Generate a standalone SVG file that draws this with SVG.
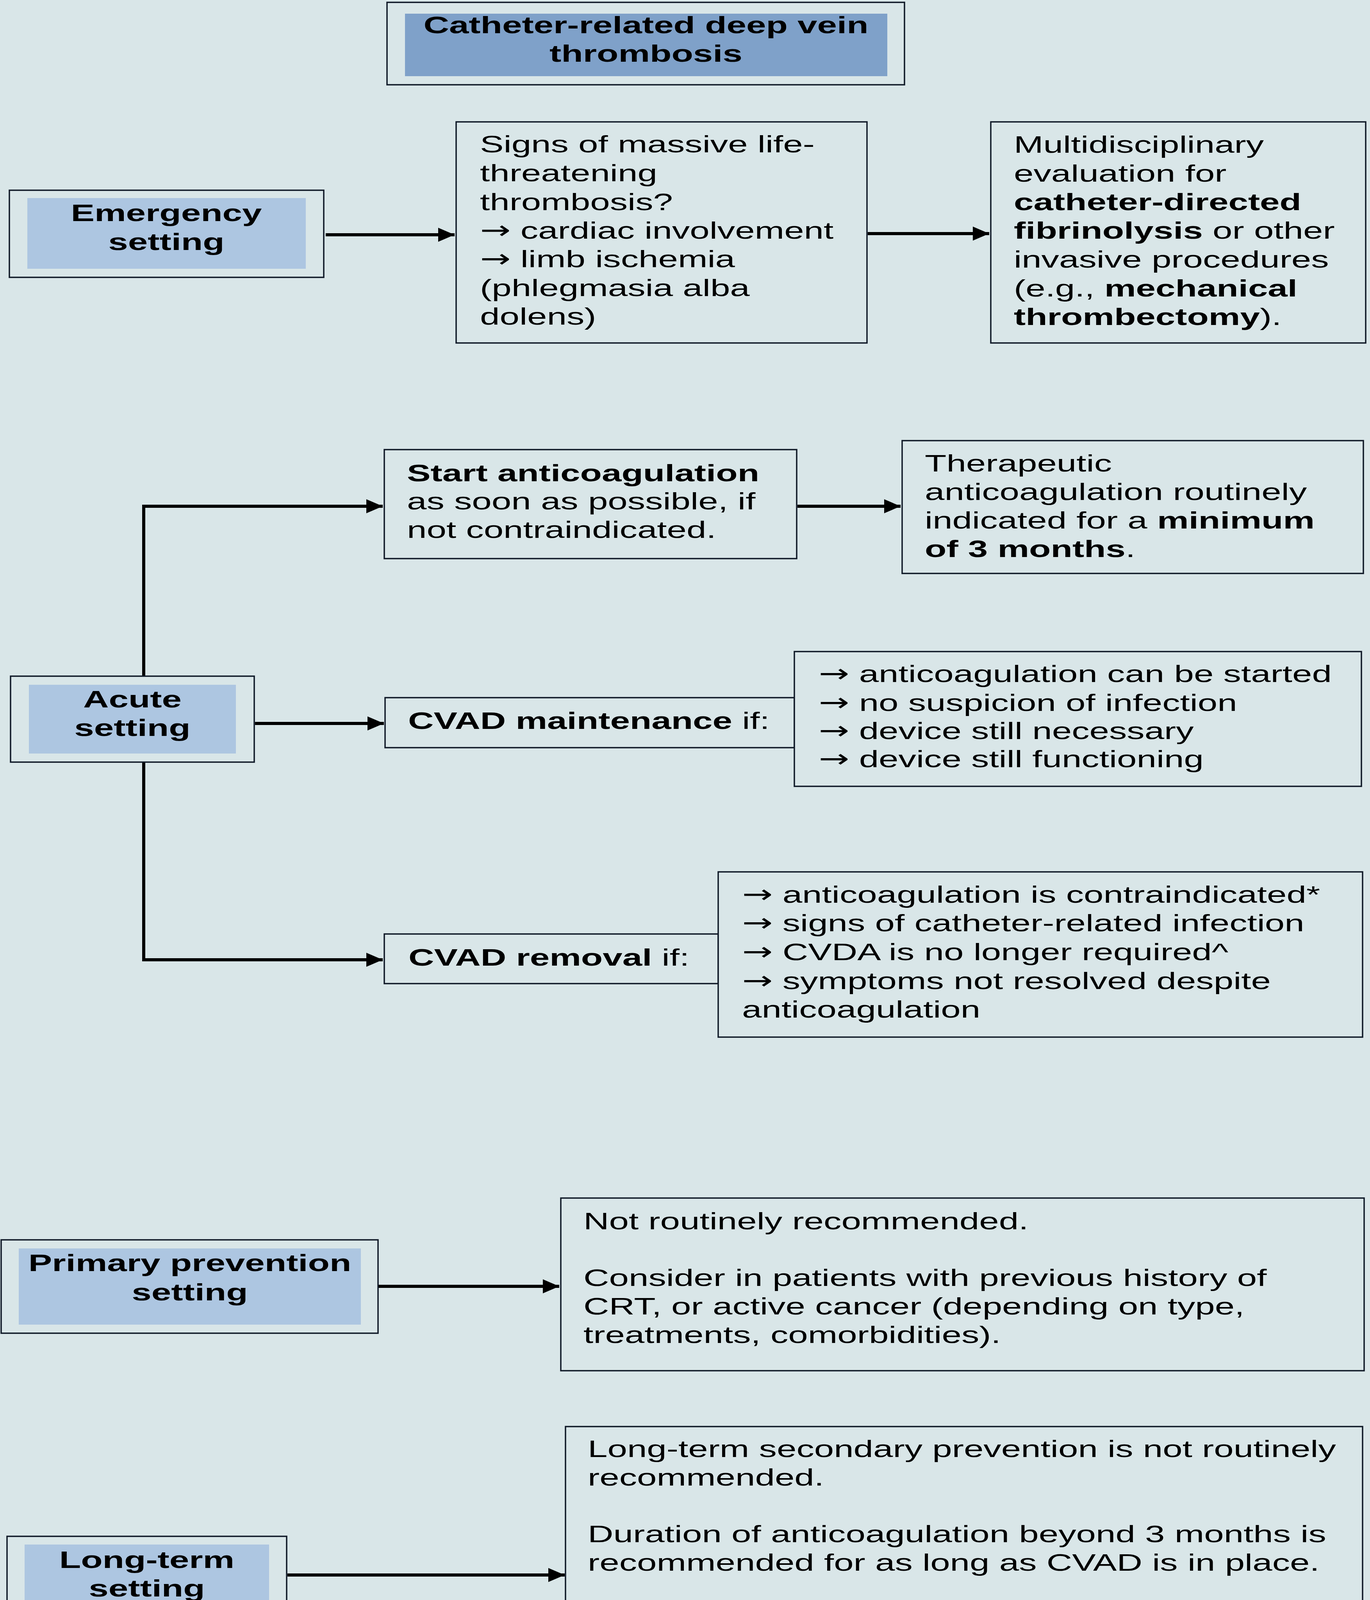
<svg xmlns="http://www.w3.org/2000/svg" width="3508" height="4529" viewBox="0 0 3508 4529">
<style>
.box{fill:#D9E6E8;stroke:#101a28;stroke-width:3.5}
.title{fill:#7FA1C9}
.inner{fill:#ADC6E1}
.t{font-family:"Liberation Sans",Arial,sans-serif;font-size:62px;fill:#000}
.b{font-weight:bold}
.c{text-anchor:middle}
.ar{font-family:"DejaVu Sans","Liberation Sans",sans-serif;font-size:64px}
.conn{fill:none;stroke:#000;stroke-width:8}
</style>
<defs>
<marker id="ah" markerUnits="userSpaceOnUse" markerWidth="44" markerHeight="36" refX="42" refY="18" orient="auto">
<path d="M0,0 L42,18 L0,36 z" fill="#000"/>
</marker>
</defs>
<rect x="0" y="0" width="3508" height="4529" fill="#D9E6E8"/>

<g id="connectors">
<path class="conn" d="M834,601 H1164" marker-end="url(#ah)"/>
<path class="conn" d="M2222,598 H2533" marker-end="url(#ah)"/>
<path class="conn" d="M368,1731 V1296 H980" marker-end="url(#ah)"/>
<path class="conn" d="M2042,1296 H2306" marker-end="url(#ah)"/>
<path class="conn" d="M653,1852 H983" marker-end="url(#ah)"/>
<path class="conn" d="M368,1951 V2457 H980" marker-end="url(#ah)"/>
<path class="conn" d="M968,3293 H1432" marker-end="url(#ah)"/>
<path class="conn" d="M736,4032 H1446" marker-end="url(#ah)"/>
</g>

<g id="n-title">
<rect class="box" x="991" y="6" width="1325" height="211"/>
<rect class="title" x="1037" y="35" width="1235" height="160"/>
<g transform="translate(1654,0) scale(1.463,1)">
<text class="t b c"><tspan x="0" y="85">Catheter-related deep vein</tspan><tspan x="0" y="158">thrombosis</tspan></text>
</g>
</g>

<g id="n-emergency">
<rect class="box" x="24" y="487" width="805" height="223"/>
<rect class="inner" x="70" y="507" width="713" height="181"/>
<g transform="translate(426,0) scale(1.463,1)">
<text class="t b c"><tspan x="0" y="566">Emergency</tspan><tspan x="0" y="640">setting</tspan></text>
</g>
</g>

<g id="n-signs">
<rect class="box" x="1168" y="312" width="1052" height="566"/>
<g transform="translate(1229,0) scale(1.463,1)">
<text class="t"><tspan x="0" y="390">Signs of massive life-</tspan><tspan x="0" y="464">threatening</tspan><tspan x="0" y="538">thrombosis?</tspan><tspan x="0" y="611"><tspan class="ar">→</tspan> cardiac involvement</tspan><tspan x="0" y="684"><tspan class="ar">→</tspan> limb ischemia</tspan><tspan x="0" y="758">(phlegmasia alba</tspan><tspan x="0" y="831">dolens)</tspan></text>
</g>
</g>

<g id="n-multidisciplinary">
<rect class="box" x="2537" y="312" width="960" height="566"/>
<g transform="translate(2596,0) scale(1.463,1)">
<text class="t"><tspan x="0" y="391">Multidisciplinary</tspan><tspan x="0" y="465">evaluation for</tspan><tspan x="0" y="538" class="b">catheter-directed</tspan><tspan x="0" y="611"><tspan class="b">fibrinolysis</tspan> or other</tspan><tspan x="0" y="685">invasive procedures</tspan><tspan x="0" y="759">(e.g., <tspan class="b">mechanical</tspan></tspan><tspan x="0" y="832"><tspan class="b">thrombectomy</tspan>).</tspan></text>
</g>
</g>

<g id="n-acute">
<rect class="box" x="27" y="1731" width="624" height="220"/>
<rect class="inner" x="74" y="1753" width="530" height="176"/>
<g transform="translate(339,0) scale(1.463,1)">
<text class="t b c"><tspan x="0" y="1811">Acute</tspan><tspan x="0" y="1884">setting</tspan></text>
</g>
</g>

<g id="n-start">
<rect class="box" x="984" y="1151" width="1056" height="279"/>
<g transform="translate(1042,0) scale(1.463,1)">
<text class="t"><tspan x="0" y="1232" class="b">Start anticoagulation</tspan><tspan x="0" y="1304">as soon as possible, if</tspan><tspan x="0" y="1377">not contraindicated.</tspan></text>
</g>
</g>

<g id="n-therapeutic">
<rect class="box" x="2310" y="1128" width="1181" height="340"/>
<g transform="translate(2368,0) scale(1.463,1)">
<text class="t"><tspan x="0" y="1207">Therapeutic</tspan><tspan x="0" y="1280">anticoagulation routinely</tspan><tspan x="0" y="1353">indicated for a <tspan class="b">minimum</tspan></tspan><tspan x="0" y="1426"><tspan class="b">of 3 months</tspan>.</tspan></text>
</g>
</g>

<g id="n-maintenance">
<rect class="box" x="986" y="1786" width="1048" height="128"/>
<g transform="translate(1045,0) scale(1.463,1)">
<text class="t"><tspan x="0" y="1866"><tspan class="b">CVAD maintenance</tspan> if:</tspan></text>
</g>
</g>

<g id="n-maintenance-list">
<rect class="box" x="2034" y="1668" width="1452" height="345"/>
<g transform="translate(2096,0) scale(1.463,1)">
<text class="t"><tspan x="0" y="1746"><tspan class="ar">→</tspan> anticoagulation can be started</tspan><tspan x="0" y="1820"><tspan class="ar">→</tspan> no suspicion of infection</tspan><tspan x="0" y="1892"><tspan class="ar">→</tspan> device still necessary</tspan><tspan x="0" y="1964"><tspan class="ar">→</tspan> device still functioning</tspan></text>
</g>
</g>

<g id="n-removal">
<rect class="box" x="984" y="2391" width="855" height="127"/>
<g transform="translate(1046,0) scale(1.463,1)">
<text class="t"><tspan x="0" y="2472"><tspan class="b">CVAD removal</tspan> if:</tspan></text>
</g>
</g>

<g id="n-removal-list">
<rect class="box" x="1839" y="2232" width="1650" height="423"/>
<g transform="translate(1900,0) scale(1.463,1)">
<text class="t"><tspan x="0" y="2311"><tspan class="ar">→</tspan> anticoagulation is contraindicated*</tspan><tspan x="0" y="2384"><tspan class="ar">→</tspan> signs of catheter-related infection</tspan><tspan x="0" y="2458"><tspan class="ar">→</tspan> CVDA is no longer required^</tspan><tspan x="0" y="2532"><tspan class="ar">→</tspan> symptoms not resolved despite</tspan><tspan x="0" y="2605">anticoagulation</tspan></text>
</g>
</g>

<g id="n-primary">
<rect class="box" x="3" y="3174" width="965" height="239"/>
<rect class="inner" x="48" y="3196" width="876" height="195"/>
<g transform="translate(486,0) scale(1.463,1)">
<text class="t b c"><tspan x="0" y="3254">Primary prevention</tspan><tspan x="0" y="3329">setting</tspan></text>
</g>
</g>

<g id="n-primary-text">
<rect class="box" x="1436" y="3067" width="2057" height="442"/>
<g transform="translate(1494,0) scale(1.463,1)">
<text class="t"><tspan x="0" y="3147">Not routinely recommended.</tspan><tspan x="0" y="3292">Consider in patients with previous history of</tspan><tspan x="0" y="3365">CRT, or active cancer (depending on type,</tspan><tspan x="0" y="3438">treatments, comorbidities).</tspan></text>
</g>
</g>

<g id="n-longterm">
<rect class="box" x="18" y="3933" width="716" height="212"/>
<rect class="inner" x="63" y="3954" width="626" height="171"/>
<g transform="translate(376,0) scale(1.463,1)">
<text class="t b c"><tspan x="0" y="4014">Long-term</tspan><tspan x="0" y="4087">setting</tspan></text>
</g>
</g>

<g id="n-longterm-text">
<rect class="box" x="1448" y="3652" width="2041" height="870"/>
<g transform="translate(1505,0) scale(1.463,1)">
<text class="t"><tspan x="0" y="3730">Long-term secondary prevention is not routinely</tspan><tspan x="0" y="3803">recommended.</tspan><tspan x="0" y="3948">Duration of anticoagulation beyond 3 months is</tspan><tspan x="0" y="4021">recommended for as long as CVAD is in place.</tspan><tspan x="0" y="4167">Consider extended anticoagulation despite</tspan><tspan x="0" y="4240">device removal in patients with previous history</tspan><tspan x="0" y="4313">of CRT or other VTE events, or active cancer</tspan><tspan x="0" y="4386">(depending on type, treatments, comorbidities),</tspan><tspan x="0" y="4458">or recanalization not achieved.</tspan></text>
</g>
</g>
</svg>
